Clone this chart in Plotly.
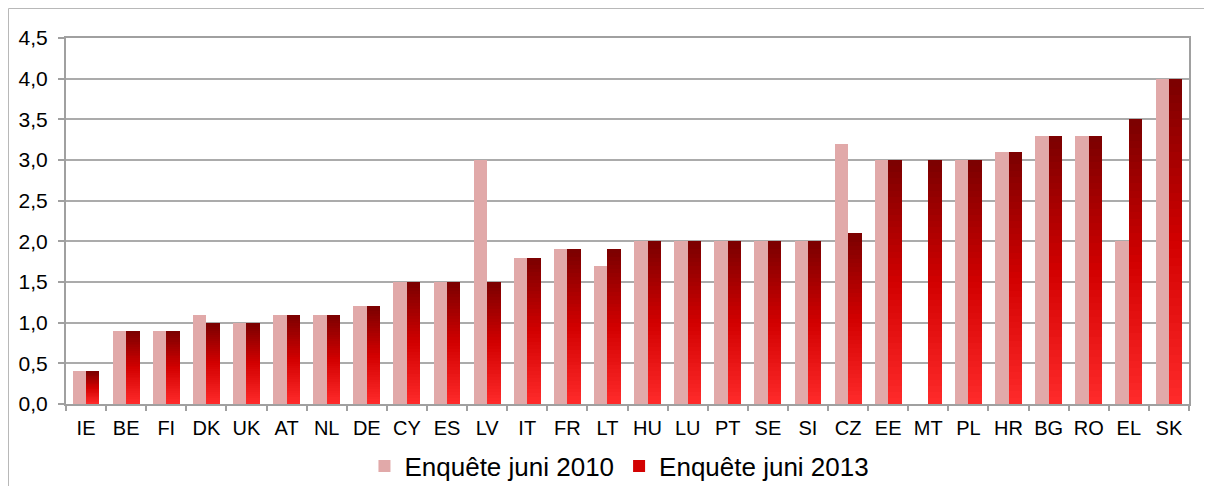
import plotly.graph_objects as go

categories = ["IE", "BE", "FI", "DK", "UK", "AT", "NL", "DE", "CY", "ES", "LV", "IT", "FR", "LT",
              "HU", "LU", "PT", "SE", "SI", "CZ", "EE", "MT", "PL", "HR", "BG", "RO", "EL", "SK"]
values_2010 = [0.4, 0.9, 0.9, 1.1, 1.0, 1.1, 1.1, 1.2, 1.5, 1.5, 3.0, 1.8, 1.9, 1.7,
               2.0, 2.0, 2.0, 2.0, 2.0, 3.2, 3.0, None, 3.0, 3.1, 3.3, 3.3, 2.0, 4.0]
values_2013 = [0.4, 0.9, 0.9, 1.0, 1.0, 1.1, 1.1, 1.2, 1.5, 1.5, 1.5, 1.8, 1.9, 1.9,
               2.0, 2.0, 2.0, 2.0, 2.0, 2.1, 3.0, 3.0, 3.0, 3.1, 3.3, 3.3, 3.5, 4.0]
y_ticks = [0.0, 0.5, 1.0, 1.5, 2.0, 2.5, 3.0, 3.5, 4.0, 4.5]
name_2010 = "Enquête juni 2010"
name_2013 = "Enquête juni 2013"

PINK = "rgba(225,169,169,0.998)"
GRID = "#ABABAB"
AXIS = "#A0A0A0"
# gradient stops (fraction from bar bottom -> colour)
STOPS = [(0.0, (255, 43, 43)), (0.5, (210, 0, 0)), (1.0, (122, 0, 0))]


def grad(f):
    for (f0, c0), (f1, c1) in zip(STOPS[:-1], STOPS[1:]):
        if f <= f1:
            t = (f - f0) / (f1 - f0)
            rgb = tuple(round(a + (b - a) * t) for a, b in zip(c0, c1))
            return "rgba(%d,%d,%d,0.998)" % rgb
    return "rgba(%d,%d,%d,0.998)" % STOPS[-1][1]


W = 0.335
fig = go.Figure()
fig.add_trace(go.Bar(x=categories, y=values_2010, name=name_2010,
                     marker=dict(color=PINK, line=dict(width=0)),
                     offset=-W, width=W, legendrank=1))

# 2013 series: overlapping bars from full height down, each a step brighter -> vertical gradient
N = 40
for k in range(N):
    frac = (N - k) / N
    fig.add_trace(go.Bar(
        x=categories,
        y=[v * frac for v in values_2013],
        name=name_2013,
        legendgroup="2013",
        showlegend=(k == N // 2),
        marker=dict(color=grad(frac - 0.5 / N), line=dict(width=0)),
        offset=0, width=W, legendrank=2,
        hoverinfo=None if k == 0 else "skip",
    ))

fig.update_layout(
    width=1212, height=486,
    paper_bgcolor="white", plot_bgcolor="white",
    margin=dict(l=58, r=31, t=30, b=90, autoexpand=False),
    barmode="overlay", bargap=0, bargroupgap=0,
    separators=", ",
    font=dict(family="Liberation Sans, Arial, sans-serif", color="black"),
    showlegend=True,
    legend=dict(orientation="h", xref="container", yref="container",
                x=0.5045, xanchor="center", y=1 - 458 / 486, yanchor="middle",
                font=dict(size=26), traceorder="normal", itemwidth=30,
                bgcolor="rgba(0,0,0,0)"),
    xaxis=dict(
        type="category", showgrid=False, showline=True, linecolor=AXIS, linewidth=2,
        mirror=True, ticks="outside", tickson="boundaries", ticklen=5, tickcolor=AXIS,
        tickwidth=1.5, tickfont=dict(size=20), tickangle=0, ticklabelstandoff=5,
        range=[-0.5, len(categories) - 0.5], automargin=False,
    ),
    yaxis=dict(
        range=[0, 4.5], tickvals=y_ticks, tickformat=".1f", showgrid=True, gridcolor=GRID,
        gridwidth=1.7, showline=True, linecolor=AXIS, linewidth=2, mirror=True,
        ticks="outside", ticklen=6, tickcolor=AXIS, tickwidth=1.5, tickfont=dict(size=21),
        ticklabelstandoff=6, zeroline=False, automargin=False,
    ),
    shapes=[dict(type="rect", xref="paper", yref="paper",
                 x0=(0.5 - 58) / 1123, x1=1.1, y0=-0.5, y1=(396 - 0.5) / 366,
                 line=dict(color="#B8B8B8", width=1), fillcolor="rgba(0,0,0,0)", layer="below")],
)

fig.write_html("out.html")
